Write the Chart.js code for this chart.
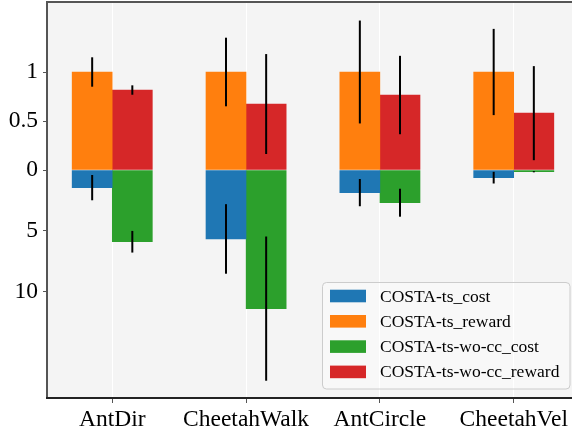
<!DOCTYPE html>
<html>
<head>
<meta charset="utf-8">
<script src="https://cdn.jsdelivr.net/npm/chart.js@4.4.0/dist/chart.umd.min.js"></script>
<style>
html, body { margin: 0; padding: 0; background: #fff; overflow: hidden; }
#wrap { width: 572px; height: 434px; overflow: hidden; }
</style>
</head>
<body>
<div id="wrap"><canvas id="chart" width="590" height="434"></canvas></div>
<script>
// values
var categories = ['AntDir', 'CheetahWalk', 'AntCircle', 'CheetahVel'];
var tsCost = [1.45, 5.67, 1.86, 0.63];
var tsCostErr = [1.04, 2.86, 1.12, 0.48];
var tsReward = [1.0, 1.0, 1.0, 1.0];
var tsRewardErr = [0.15, 0.35, 0.525, 0.44];
var woCost = [5.9, 11.4, 2.69, 0.14];
var woCostErr = [0.89, 5.93, 1.15, 0.05];
var woReward = [0.816, 0.673, 0.765, 0.58];
var woRewardErr = [0.048, 0.51, 0.40, 0.48];
var rewardTicks = [0, 0.5, 1];
var costTicks = [10, 5];

// cost is drawn downward, on its own (smaller) unit than reward
var costScale = 12.16 / 98;
var FONT = '"Liberation Serif", "Times New Roman", serif';

function series(label, color, values, errs, offset, isCost) {
    return {
        label: label,
        backgroundColor: color,
        borderWidth: 0,
        grouped: false,
        barThickness: 40,
        data: values.map(function (v, i) {
            return { x: i + offset, y: isCost ? -v * costScale : v };
        }),
        errors: errs.map(function (e) { return isCost ? e * costScale : e; })
    };
}

var datasets = [
    series('COSTA-ts_cost', '#1f77b4', tsCost, tsCostErr, -0.15, true),
    series('COSTA-ts_reward', '#ff7f0e', tsReward, tsRewardErr, -0.15, false),
    series('COSTA-ts-wo-cc_cost', '#2ca02c', woCost, woCostErr, 0.15, true),
    series('COSTA-ts-wo-cc_reward', '#d62728', woReward, woRewardErr, 0.15, false)
];

var yTickValues = costTicks.map(function (c) { return -c * costScale; }).concat(rewardTicks);
var yTickLabels = costTicks.map(String).concat(rewardTicks.map(String));

var framePlugin = {
    id: 'frame',
    beforeDraw: function (chart) {
        var a = chart.chartArea, ctx = chart.ctx;
        ctx.save();
        ctx.fillStyle = '#f4f4f4';
        ctx.fillRect(a.left, a.top, a.right - a.left, a.bottom - a.top);
        ctx.restore();
    },
    afterDatasetsDraw: function (chart) {
        var ctx = chart.ctx, ys = chart.scales.y, a = chart.chartArea;
        ctx.save();
        // error bars
        ctx.strokeStyle = '#000';
        ctx.lineWidth = 2;
        chart.data.datasets.forEach(function (ds, di) {
            var meta = chart.getDatasetMeta(di);
            meta.data.forEach(function (bar, i) {
                var v = ds.data[i].y, e = ds.errors[i];
                ctx.beginPath();
                ctx.moveTo(bar.x, ys.getPixelForValue(v - e));
                ctx.lineTo(bar.x, ys.getPixelForValue(v + e));
                ctx.stroke();
            });
        });
        // spines
        ctx.lineWidth = 2;
        ctx.strokeStyle = '#555';
        ctx.beginPath();
        ctx.moveTo(a.left - 1, a.bottom);
        ctx.lineTo(a.left - 1, a.top - 1);
        ctx.lineTo(a.right, a.top - 1);
        ctx.stroke();
        ctx.strokeStyle = '#222';
        ctx.beginPath();
        ctx.moveTo(a.left - 2, a.bottom);
        ctx.lineTo(a.right, a.bottom);
        ctx.stroke();

        // legend
        var lx = 322.5, ly = 282.5, lw = 247.5, lh = 106.5, r = 4;
        ctx.fillStyle = 'rgba(255,255,255,0.4)';
        ctx.strokeStyle = '#cccccc';
        ctx.lineWidth = 1;
        ctx.beginPath();
        ctx.moveTo(lx + r, ly);
        ctx.arcTo(lx + lw, ly, lx + lw, ly + lh, r);
        ctx.arcTo(lx + lw, ly + lh, lx, ly + lh, r);
        ctx.arcTo(lx, ly + lh, lx, ly, r);
        ctx.arcTo(lx, ly, lx + lw, ly, r);
        ctx.closePath();
        ctx.fill();
        ctx.stroke();
        ctx.font = '17.5px ' + FONT;
        ctx.textBaseline = 'middle';
        ctx.textAlign = 'left';
        chart.data.datasets.forEach(function (ds, di) {
            var cy = 296 + di * 25.3;
            ctx.fillStyle = ds.backgroundColor;
            ctx.fillRect(330, cy - 6.3, 36, 12.6);
            ctx.fillStyle = '#000';
            ctx.fillText(ds.label, 380, cy + 1);
        });
        ctx.restore();
    }
};

var ctx = document.getElementById('chart');
var myChart = new Chart(ctx, {
    type: 'bar',
    data: { datasets: datasets },
    options: {
        responsive: false,
        animation: false,
        events: [],
        layout: { padding: { top: 3, right: 12, left: 0, bottom: 0 } },
        plugins: { legend: { display: false }, tooltip: { enabled: false } },
        scales: {
            x: {
                type: 'linear',
                offset: false,
                min: -0.48,
                max: 3.48,
                afterBuildTicks: function (scale) {
                    scale.ticks = categories.map(function (c, i) { return { value: i }; });
                },
                afterFit: function (scale) {
                    scale.height = 36;
                    scale.paddingLeft = 0;
                    scale.paddingRight = 0;
                },
                border: { display: false },
                grid: { offset: false, color: '#ffffff', lineWidth: 1, tickColor: '#555', tickLength: 5 },
                ticks: {
                    autoSkip: false,
                    maxRotation: 0,
                    padding: 3,
                    color: '#000',
                    font: { family: FONT, size: 23.5 },
                    callback: function (v, i) { return categories[i]; }
                }
            },
            y: {
                min: -228 / 98,
                max: 167 / 98,
                afterBuildTicks: function (scale) {
                    scale.ticks = yTickValues.map(function (v) { return { value: v }; });
                },
                afterFit: function (scale) {
                    scale.width = 48;
                    scale.paddingTop = 0;
                    scale.paddingBottom = 0;
                },
                border: { display: false },
                grid: { drawOnChartArea: false, tickColor: '#555', tickLength: 5 },
                ticks: {
                    autoSkip: false,
                    padding: 5,
                    color: '#000',
                    font: { family: FONT, size: 23.5 },
                    callback: function (v, i) { return yTickLabels[i]; }
                }
            }
        }
    },
    plugins: [framePlugin]
});
</script>
</body>
</html>
